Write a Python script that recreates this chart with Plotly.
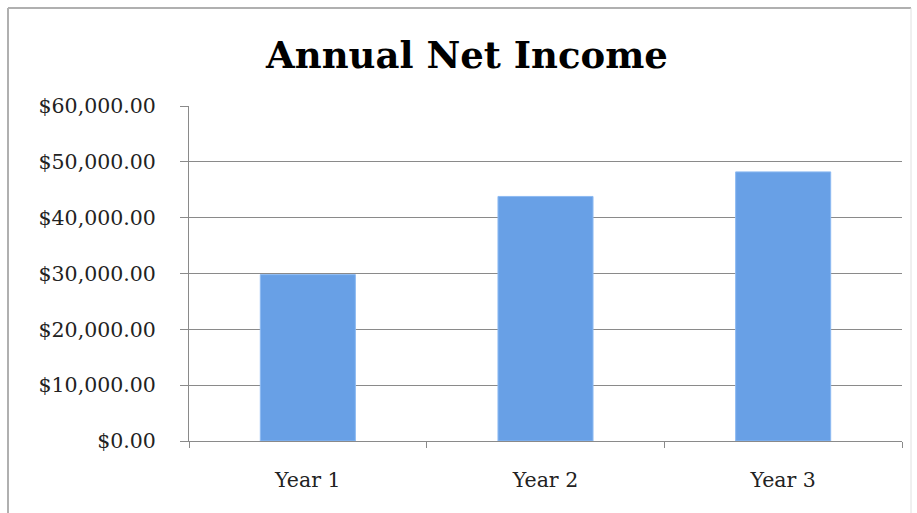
import plotly.graph_objects as go

categories = ["Year 1", "Year 2", "Year 3"]
net_income = [29800, 43800, 48200]
y_ticks = [0, 10000, 20000, 30000, 40000, 50000, 60000]

W, H = 917, 513
L, R, T, B = 189, 15, 106, 72
pw, ph = W - L - R, H - T - B

def px(x):
    return (x - L) / pw

def py(y):
    return (H - B - y) / ph

fig = go.Figure()
fig.add_trace(go.Bar(
    x=categories, y=net_income,
    marker=dict(color="#68a0e6", line=dict(color="#8dbaf2", width=1)),
    width=0.4,
))

serif = "DejaVu Serif"
fig.update_layout(
    width=W, height=H,
    margin=dict(l=L, r=R, t=T, b=B),
    paper_bgcolor="white", plot_bgcolor="white",
    showlegend=False,
    title=dict(text="<b>Annual Net Income</b>", x=467 / W, xanchor="center",
               y=1 - 55 / H, yanchor="middle",
               font=dict(family=serif, size=37, color="black")),
    font=dict(family=serif, color="#222"),
)
fig.update_yaxes(
    range=[0, 60000], tickvals=y_ticks, tickformat="$,.2f",
    showgrid=True, gridcolor="#8a8a8a", gridwidth=1,
    showline=True, linecolor="#8a8a8a", linewidth=1,
    ticks="outside", ticklen=8, tickcolor="#8a8a8a",
    ticklabelstandoff=20,
    tickfont=dict(family=serif, size=20.5, color="#222"),
    zeroline=False,
)
fig.update_xaxes(
    showline=True, linecolor="#8a8a8a", linewidth=1,
    ticks="outside", tickson="boundaries", ticklen=6, tickcolor="#8a8a8a",
    ticklabelstandoff=20,
    tickfont=dict(family=serif, size=20.5, color="#222"),
)
border = dict(color="#b0b0b0", width=2)
fig.add_shape(type="line", xref="paper", yref="paper", x0=px(8), x1=px(8), y0=py(8), y1=py(515), line=border)
fig.add_shape(type="line", xref="paper", yref="paper", x0=px(8), x1=px(911), y0=py(8), y1=py(8), line=border)
fig.add_shape(type="line", xref="paper", yref="paper", x0=px(911), x1=px(911), y0=py(8), y1=py(515), line=dict(color="#e0e0e0", width=1))

fig.write_html("out.html")
